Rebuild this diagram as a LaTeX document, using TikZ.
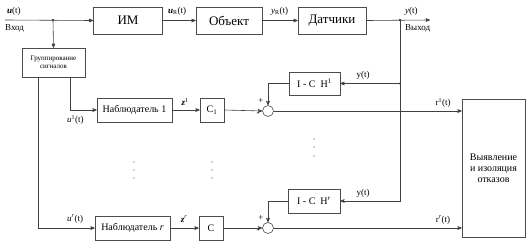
\documentclass[tikz,border=0pt]{standalone}
\usepackage{fontspec}
\setmainfont{Liberation Serif}
\usepackage{tikz}
\usetikzlibrary{calc}
\usetikzlibrary{arrows}
\usetikzlibrary{positioning}
\tikzset{
  blk/.style={draw=black!70, line width=0.6pt, minimum width=#1, inner sep=1pt, font=\fontsize{10}{11}\selectfont},
  blk/.default=24pt,
  sumc/.style={draw=black!70, line width=0.6pt, circle, minimum size=11pt, inner sep=0pt},
  lbl/.style={font=\fontsize{9}{10}\selectfont, inner sep=1pt},
  wire/.style={black!75, line width=0.6pt},
  sig/.style={wire, ->, >=stealth'},
  jdot/.style={circle, fill=black, inner sep=0pt, minimum size=2.2pt}
}
\begin{document}
\begin{tikzpicture}[x=1pt, y=-1pt]
\useasboundingbox (0,0) rectangle (530,247);
% top chain
\node[blk=69pt, minimum height=27pt, font=\fontsize{13}{14}\selectfont] (im) at (128,20.5) {ИМ};
\node[blk=66pt, minimum height=27pt, font=\fontsize{13}{14}\selectfont] (obj) at (229,20.5) {Объект};
\node[blk=68pt, minimum height=27pt, font=\fontsize{13}{14}\selectfont] (sens) at (332,20.5) {Датчики};
\node[blk=63pt, minimum height=29pt, align=center, font=\fontsize{7}{8}\selectfont] (grp) at (53.5,62.5) {Группирование\\сигналов};
\coordinate (in) at (5,20);
\node[jdot] (split) at (53,20) {};
\node[jdot] (ydot) at (400,20) {};
\coordinate (out) at (430,20);
\draw[sig] (in) -- (im.west);
\draw[sig] (im.east) -- (obj.west);
\draw[sig] (obj.east) -- (sens.west);
\draw[sig] (sens.east) -- (out);
\draw[sig] (split.center) -- (grp.north);
\node[lbl, anchor=west] at (6,11) {\textbf{\textit{u}}(t)};
\node[lbl, anchor=west] at (4,28) {Вход};
\node[lbl, anchor=west] at (167,11) {\textbf{\textit{u}}\textsubscript{R}(t)};
\node[lbl, anchor=west] at (270,11) {\textit{y}\textsubscript{R}(t)};
\node[lbl, anchor=west] at (404,11) {\textit{y}(t)};
\node[lbl, anchor=west] at (404,28) {Выход};
% observer rows
\node[blk=75pt, minimum height=24pt] (obs1) at (134.5,110) {Наблюдатель 1};
\node[blk, minimum height=24pt] (c1) at (212,110) {C\textsubscript{1}};
\node[sumc] (sum1) at (268,111) {};
\node[blk=51pt, minimum height=23pt] (ich1) at (314.5,83.5) {I - C\ \ H\textsuperscript{1}};
\node[blk=75pt, minimum height=24pt] (obsr) at (132.5,228) {Наблюдатель \textit{r}};
\node[blk, minimum height=24pt] (cr) at (211,228) {C};
\node[sumc] (sumr) at (268,228) {};
\node[blk=52pt, minimum height=24pt] (ichr) at (314,201) {I - C\ \ H\textsuperscript{\textit{r}}};
\node[blk=63pt, minimum height=138pt, align=center] (det) at (493.5,168) {Выявление\\и изоляция\\отказов};
\node[jdot] (ydot1) at (ydot |- ich1.east) {};
% connections
\draw[sig] ([xshift=16.5pt]grp.south) |- (obs1.west);
\draw[sig] ([xshift=-15.5pt]grp.south) |- (obsr.west);
\draw[sig] (obs1.east) -- (c1.west);
\draw[sig] (c1.east) -- (sum1.west);
\draw[sig] (sum1.east) -- (sum1.east -| det.west);
\draw[sig] (ich1.west) -| (sum1.north);
\draw[wire] (ydot.center) -- (ydot1.center);
\draw[sig] (ydot1.center) -- (ich1.east);
\draw[sig] (obsr.east |- cr.west) -- (cr.west);
\draw[sig] (cr.east) -- (sumr.west);
\draw[sig] (sumr.east) -- (sumr.east -| det.west);
\draw[sig] (ichr.west) -| (sumr.north);
\draw[sig] (ydot1.center) |- (ichr.east);
% labels
\node[lbl, anchor=west] at (66,120) {\textit{u}\textsuperscript{1}(t)};
\node[lbl, anchor=west] at (66,219) {\textit{u}\textsuperscript{\textit{r}}(t)};
\node[lbl] at (185,102) {\textbf{\textit{z}}\textsuperscript{1}};
\node[lbl] at (184,219) {\textbf{\textit{z}}\textsuperscript{\textit{r}}};
\node[lbl] at (261,101) {+};
\node[lbl] at (258,114) {-};
\node[lbl] at (261,218) {+};
\node[lbl] at (258,231) {-};
\node[lbl] at (363,75) {y(t)};
\node[lbl] at (363,193) {y(t)};
\node[lbl] at (443,103) {r\textsuperscript{1}(t)};
\node[lbl] at (443,220) {r\textsuperscript{\textit{r}}(t)};
% dots between rows
\foreach \px in {134,212} {
  \foreach \py in {162,170,178} {
    \fill[black!75] (\px,\py) circle (0.7pt);
  }
}
\foreach \py in {139,147,156} {
  \fill[black!75] (314,\py) circle (0.7pt);
}
\end{tikzpicture}
\end{document}
